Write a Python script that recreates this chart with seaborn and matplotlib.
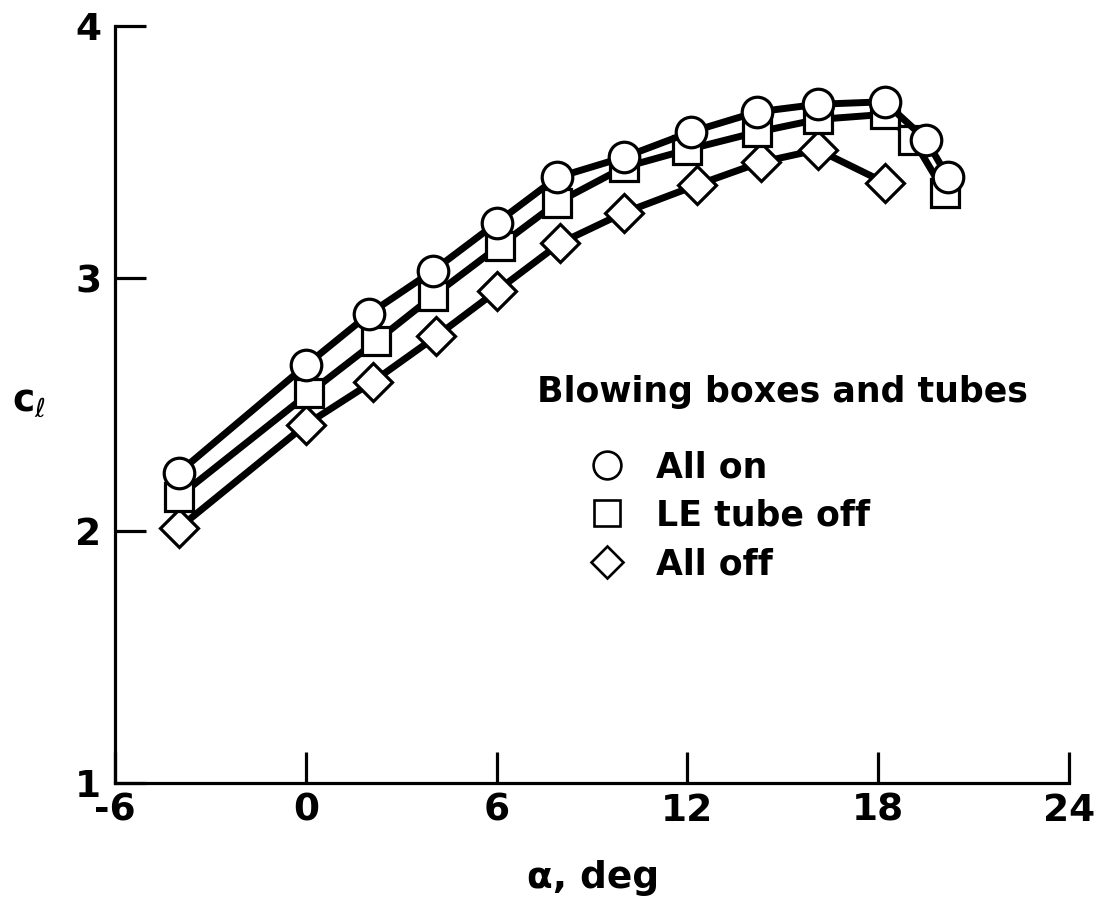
import numpy as np
import pandas as pd
import matplotlib
matplotlib.use("Agg")
import matplotlib.pyplot as plt
from matplotlib.lines import Line2D
import seaborn as sns

# data
alpha_on = [-4, 0, 2, 4, 6, 7.9, 10, 12.1, 14.2, 16.1, 18.2, 19.5, 20.2]
cl_on = [2.23, 2.655, 2.86, 3.03, 3.22, 3.40, 3.48, 3.58, 3.66, 3.69, 3.70, 3.55, 3.40]

alpha_le = [-4, 0.1, 2.2, 4, 6.1, 7.9, 10, 12, 14.2, 16.1, 18.2, 19.1, 20.1]
cl_le = [2.135, 2.545, 2.75, 2.93, 3.13, 3.30, 3.44, 3.51, 3.58, 3.63, 3.65, 3.55, 3.34]

alpha_off = [-4, 0, 2.1, 4.1, 6, 8, 10, 12.3, 14.3, 16.1, 18.2]
cl_off = [2.01, 2.42, 2.59, 2.77, 2.95, 3.14, 3.26, 3.37, 3.46, 3.51, 3.38]

labels = ["All on", "LE tube off", "All off"]
legend_title = "Blowing boxes and tubes"
xticks = [-6, 0, 6, 12, 18, 24]
yticks = [1, 2, 3, 4]

sns.set_style("ticks")
plt.rcParams['font.family'] = ['DejaVu Sans']
plt.rcParams['mathtext.fontset'] = 'dejavusans'
plt.rcParams['text.color'] = 'black'
plt.rcParams['axes.labelcolor'] = 'black'

fig = plt.figure(figsize=(11.05, 9.02), dpi=100)
ax = fig.add_axes([0.1041, 0.1319, 0.8633, 0.8392])

common = dict(color='black', linewidth=5, markerfacecolor='white',
              markeredgecolor='black', markeredgewidth=2.3, errorbar=None, sort=False)
sns.lineplot(x=alpha_off, y=cl_off, marker='D', markersize=19, ax=ax, zorder=3, **common)
sns.lineplot(x=alpha_le, y=cl_le, marker='s', markersize=20.5, ax=ax, zorder=4, **common)
sns.lineplot(x=alpha_on, y=cl_on, marker='o', markersize=22, ax=ax, zorder=5, **common)

ax.set_xlim(-6, 24)
ax.set_ylim(1, 4)
ax.set_xticks(xticks)
ax.set_yticks(yticks)
ax.set_xticklabels([str(t) for t in xticks])
sns.despine(ax=ax)
for s in ['left', 'bottom']:
    ax.spines[s].set_linewidth(2.3)
    ax.spines[s].set_color('black')
ax.tick_params(direction='in', length=22, width=2.3, labelsize=27, colors='black')
ax.tick_params(axis='x', pad=7)
ax.tick_params(axis='y', pad=10)
for lab in ax.get_xticklabels() + ax.get_yticklabels():
    lab.set_fontweight('bold')

ax.set_xlabel("α, deg", fontsize=27, fontweight='bold')
ax.xaxis.set_label_coords(0.501, -0.1255)
ax.xaxis.label.set_va('center')
ax.set_ylabel(r"$\mathbf{c}_{\ell}$", fontsize=27, rotation=0)
ax.yaxis.set_label_coords(-0.09, 0.505)
ax.yaxis.label.set_va('center')
ax.yaxis.label.set_ha('center')

# legend: title as text, entries as marker-only legend
fig.text(0.486, 1 - 392 / 902, legend_title, fontsize=25, fontweight='bold',
         ha='left', va='center')
handles = [
    Line2D([], [], linestyle='', marker='o', markersize=20, markerfacecolor='white',
           markeredgecolor='black', markeredgewidth=1.9),
    Line2D([], [], linestyle='', marker='s', markersize=18.5, markerfacecolor='white',
           markeredgecolor='black', markeredgewidth=1.9),
    Line2D([], [], linestyle='', marker='D', markersize=16, markerfacecolor='white',
           markeredgecolor='black', markeredgewidth=1.9),
]
leg = fig.legend(handles, labels, loc='upper left', bbox_to_anchor=(590 / 1105, 1 - 450 / 902),
                 frameon=False, fontsize=25, handlelength=1.0, handletextpad=0.9,
                 labelspacing=0.42, borderpad=0, borderaxespad=0)
for t in leg.get_texts():
    t.set_fontweight('bold')
    t.set_color('black')

fig.savefig("out.png", dpi=100)
